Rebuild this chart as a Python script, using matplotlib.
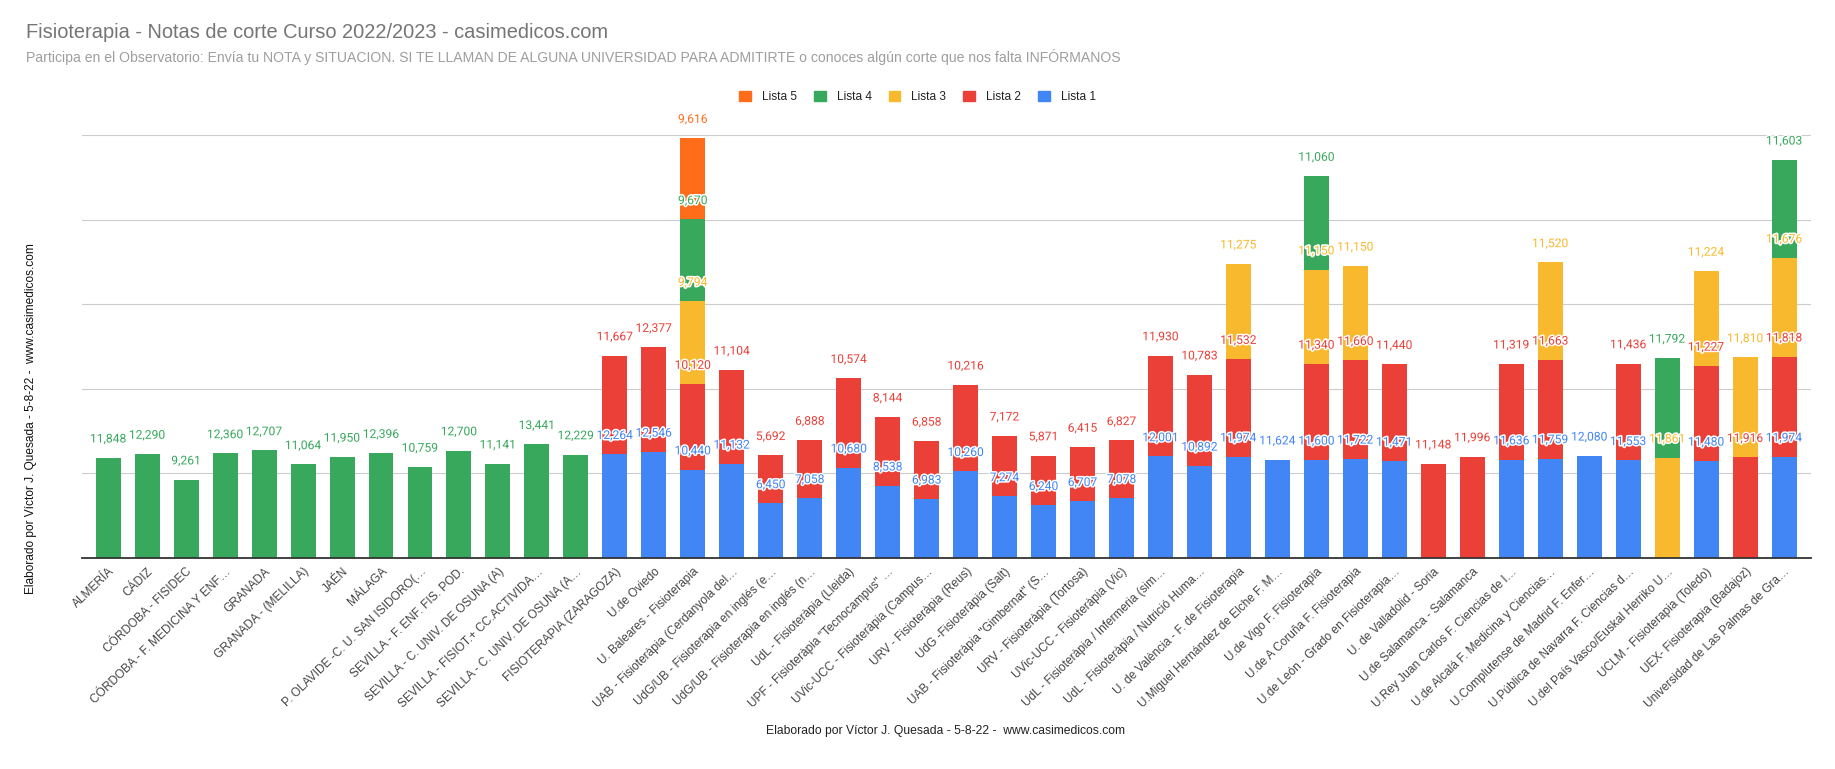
import matplotlib
matplotlib.use("Agg")
import matplotlib.pyplot as plt
import matplotlib.patheffects as pe
from matplotlib.patches import Patch
import numpy as np

W, H = 1835, 769

universidades = [
    "ALMERÍA", "CÁDIZ", "CÓRDOBA - FISIDEC", "CÓRDOBA - F. MEDICINA Y ENF…", "GRANADA",
    "GRANADA - (MELILLA)", "JAÉN", "MÁLAGA", "P. OLAVIDE -C. U. SAN ISIDORO(…",
    "SEVILLA - F. ENF. FIS. POD.", "SEVILLA - C. UNIV. DE OSUNA (A)", "SEVILLA - FISIOT.+ CC.ACTIVIDA…",
    "SEVILLA - C. UNIV. DE OSUNA (A…", "FISIOTERAPIA (ZARAGOZA)", "U.de Oviedo",
    "U. Baleares - Fisioterapia", "UAB - Fisioteràpia (Cerdanyola del…", "UdG/UB - Fisioterapia en inglés (e…",
    "UdG/UB - Fisioterapia en inglés (n…", "UdL - Fisioteràpia (Lleida)", "UPF - Fisioteràpia \"Tecnocampus\" …",
    "UVic-UCC - Fisioteràpia (Campus…", "URV - Fisioteràpia (Reus)", "UdG -Fisioteràpia (Salt)",
    "UAB - Fisioteràpia \"Gimbernat\" (S…", "URV - Fisioteràpia (Tortosa)", "UVic-UCC - Fisioteràpia (Vic)",
    "UdL - Fisioteràpia / Infermeria (sim…", "UdL - Fisioteràpia / Nutrició Huma…",
    "U. de València - F. de Fisioterapia", "U.Miguel Hernández de Elche F. M…", "U.de Vigo F. Fisioterapia",
    "U.de A Coruña F. Fisioterapia", "U.de León - Grado en Fisioterapia…", "U. de Valladolid - Soria",
    "U.de Salamanca - Salamanca", "U.Rey Juan Carlos F. Ciencias de l…", "U.de Alcalá F. Medicina y Ciencias…",
    "U.Complutense de Madrid F. Enfer…", "U.Pública de Navarra F. Ciencias d…",
    "U.del País Vasco/Euskal Herriko U…", "UCLM - Fisioterapia (Toledo)", "UEX- Fisioterapia (Badajoz)",
    "Universidad de Las Palmas de Gra…",
]

# 0 means the university has no cut-off mark in that list
lista1 = [0, 0, 0, 0, 0, 0, 0, 0, 0, 0, 0, 0, 0, 12.264, 12.546, 10.440, 11.132, 6.450, 7.058, 10.680,
          8.538, 6.983, 10.260, 7.274, 6.240, 6.707, 7.078, 12.001, 10.892, 11.974, 11.624, 11.600,
          11.722, 11.471, 0, 0, 11.636, 11.759, 12.080, 11.553, 0, 11.480, 0, 11.974]
lista2 = [0, 0, 0, 0, 0, 0, 0, 0, 0, 0, 0, 0, 0, 11.667, 12.377, 10.120, 11.104, 5.692, 6.888, 10.574,
          8.144, 6.858, 10.216, 7.172, 5.871, 6.415, 6.827, 11.930, 10.783, 11.532, 0, 11.340,
          11.660, 11.440, 11.148, 11.996, 11.319, 11.663, 0, 11.436, 0, 11.227, 11.916, 11.818]
lista3 = [0, 0, 0, 0, 0, 0, 0, 0, 0, 0, 0, 0, 0, 0, 0, 9.794, 0, 0, 0, 0,
          0, 0, 0, 0, 0, 0, 0, 0, 0, 11.275, 0, 11.150,
          11.150, 0, 0, 0, 0, 11.520, 0, 0, 11.861, 11.224, 11.810, 11.676]
lista4 = [11.848, 12.290, 9.261, 12.360, 12.707, 11.064, 11.950, 12.396, 10.759, 12.700, 11.141, 13.441,
          12.229, 0, 0, 9.670, 0, 0, 0, 0,
          0, 0, 0, 0, 0, 0, 0, 0, 0, 0, 0, 11.060,
          0, 0, 0, 0, 0, 0, 0, 0, 11.792, 0, 0, 11.603]
lista5 = [0, 0, 0, 0, 0, 0, 0, 0, 0, 0, 0, 0, 0, 0, 0, 9.616, 0, 0, 0, 0,
          0, 0, 0, 0, 0, 0, 0, 0, 0, 0, 0, 0,
          0, 0, 0, 0, 0, 0, 0, 0, 0, 0, 0, 0]

nombres = ["Lista 1", "Lista 2", "Lista 3", "Lista 4", "Lista 5"]
colores = ["#4285f4", "#ea4038", "#f9b92e", "#38a85c", "#ff6d1a"]
series = [lista1, lista2, lista3, lista4, lista5]

fig = plt.figure(figsize=(W / 100, H / 100), dpi=100)
ax = fig.add_axes([82 / W, 1 - 558 / H, (1811 - 82) / W, (558 - 135) / H])

x = np.arange(len(universidades))
base = np.zeros(len(universidades))
etiquetas = []
for vals, nombre, color in zip(series, nombres, colores):
    vals = np.array(vals)
    ax.bar(x, vals, bottom=base, width=0.64, color=color, label=nombre, linewidth=0, zorder=2)
    top = base + vals
    for xi, v, t in zip(x, vals, top):
        if v > 0:
            etiquetas.append((xi, t, v, color))
    base = top

# data labels sit above each segment, with a white halo over the bars
for xi, t, v, color in etiquetas:
    ax.annotate(f"{v:.3f}".replace(".", ","), (xi, t), xytext=(0, 13.5), textcoords="offset points",
                ha="center", va="center", fontsize=8.7, family="Roboto", color=color, zorder=5,
                path_effects=[pe.withStroke(linewidth=2.2, foreground="white")])

ax.set_xlim(-0.672, 43.69)
ax.set_ylim(0, 50)
ax.set_yticks([10, 20, 30, 40, 50])
ax.tick_params(axis="y", left=False, labelleft=False)
ax.tick_params(axis="x", bottom=False, pad=2)
ax.grid(axis="y", color="#cccccc", linewidth=0.8)
ax.set_axisbelow(True)
for s in ["top", "left", "right"]:
    ax.spines[s].set_visible(False)
ax.spines["bottom"].set_color("#333333")
ax.spines["bottom"].set_linewidth(1.3)

ax.set_xticks(x)
ax.set_xticklabels(universidades, rotation=44, ha="right", va="top", rotation_mode="anchor",
                   fontsize=8.6, family="Liberation Sans", color="#444444")

fig.text(26 / W, 1 - 33 / H, "Fisioterapia - Notas de corte Curso 2022/2023 - casimedicos.com",
         fontsize=14.4, family="Liberation Sans", color="#757575", va="center", ha="left")
fig.text(26 / W, 1 - 57 / H,
         "Participa en el Observatorio: Envía tu NOTA y SITUACION. SI TE LLAMAN DE ALGUNA UNIVERSIDAD PARA ADMITIRTE o conoces algún corte que nos falta INFÓRMANOS",
         fontsize=10.11, family="Liberation Sans", color="#9e9e9e", va="center", ha="left")
fig.text(946 / W, 1 - 731 / H, "Elaborado por Víctor J. Quesada - 5-8-22 -  www.casimedicos.com",
         fontsize=8.7, family="Liberation Sans", color="#222222", va="center", ha="center")
fig.text(31 / W, 1 - 419 / H, "Elaborado por Víctor J. Quesada - 5-8-22 -  www.casimedicos.com",
         fontsize=8.6, family="Liberation Sans", color="#111111", va="center", ha="center",
         rotation=90)

handles = [Patch(color=c, label=n) for c, n in zip(colores[::-1], nombres[::-1])]
fig.legend(handles=handles, ncol=5, loc="center", bbox_to_anchor=(917.5 / W, 1 - 97 / H), frameon=False,
           prop={"family": "Liberation Sans", "size": 8.6}, labelcolor="#222222", handlelength=1, handleheight=1,
           handletextpad=0.92, columnspacing=1.42, borderpad=0, borderaxespad=0)

fig.savefig("out.png", dpi=100)
